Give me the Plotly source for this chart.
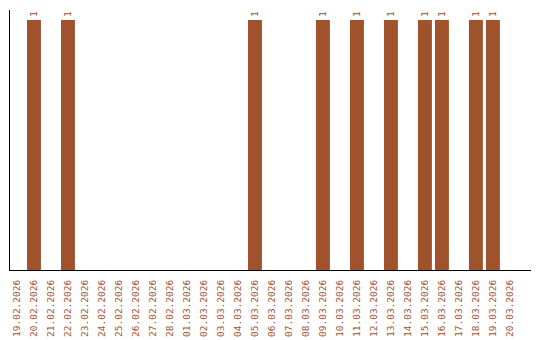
import plotly.graph_objects as go

dates = ["19.02.2026", "20.02.2026", "21.02.2026", "22.02.2026", "23.02.2026",
         "24.02.2026", "25.02.2026", "26.02.2026", "27.02.2026", "28.02.2026",
         "01.03.2026", "02.03.2026", "03.03.2026", "04.03.2026", "05.03.2026",
         "06.03.2026", "07.03.2026", "08.03.2026", "09.03.2026", "10.03.2026",
         "11.03.2026", "12.03.2026", "13.03.2026", "14.03.2026", "15.03.2026",
         "16.03.2026", "17.03.2026", "18.03.2026", "19.03.2026", "20.03.2026"]
counts = [0, 1, 0, 1, 0, 0, 0, 0, 0, 0,
          0, 0, 0, 0, 1, 0, 0, 0, 1, 0,
          1, 0, 1, 0, 1, 1, 0, 1, 1, 0]

color = "#a0522d"
labels = [str(v) if v else "" for v in counts]

fig = go.Figure(go.Bar(
    x=dates, y=counts, marker_color=color, marker_line_width=0,
    text=labels, textposition="outside", textangle=-90,
    textfont=dict(color=color, size=9.5, family="DejaVu Sans Mono"),
    cliponaxis=False,
))
fig.update_layout(
    width=540, height=340, margin=dict(l=10, r=9, t=10, b=70),
    paper_bgcolor="white", plot_bgcolor="white", bargap=0.18,
    showlegend=False,
    font=dict(family="DejaVu Sans Mono", size=9.5, color=color),
)
fig.update_xaxes(type="category", range=[-0.41, 30.24], tickangle=-90,
                 showline=True, linecolor="black", linewidth=1,
                 showgrid=False, ticks="", ticklabelstandoff=5, automargin=False,
                 tickfont=dict(color=color, size=9.5))
fig.update_yaxes(range=[0, 1.04], showline=True, linecolor="black", linewidth=1,
                 showgrid=False, showticklabels=False, ticks="", zeroline=False,
                 automargin=False)
fig.write_html("out.html")
